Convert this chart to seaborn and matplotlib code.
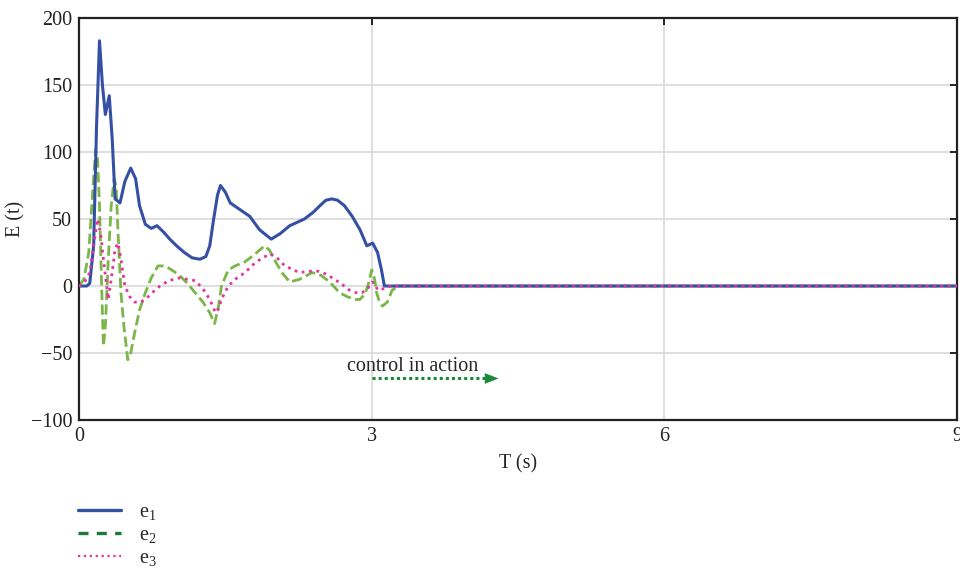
import matplotlib
matplotlib.use("Agg")
import matplotlib.pyplot as plt
from matplotlib.lines import Line2D
import seaborn as sns
import pandas as pd

# values
t_e1 = [0, 0.08, 0.11, 0.15, 0.18, 0.21, 0.24, 0.27, 0.31, 0.34, 0.37, 0.42, 0.47, 0.53, 0.58,
        0.62, 0.68, 0.74, 0.80, 0.87, 0.93, 1.00, 1.08, 1.16, 1.24, 1.30, 1.34, 1.38, 1.42, 1.45,
        1.50, 1.55, 1.65, 1.75, 1.85, 1.97, 2.06, 2.16, 2.31, 2.40, 2.47, 2.53, 2.59, 2.65, 2.72,
        2.80, 2.88, 2.95, 3.01, 3.06, 3.10, 3.13, 3.20, 9.0]
e1 = [0, 0, 2, 30, 120, 183, 150, 128, 142, 110, 65, 62, 78, 88, 80,
      60, 46, 43, 45, 40, 35, 30, 25, 21, 20, 22, 30, 50, 68, 75,
      70, 62, 57, 52, 42, 35, 39, 45, 50, 55, 60, 64, 65, 64, 60,
      52, 42, 30, 32, 25, 12, 0, 0, 0]

t_e2 = [0, 0.05, 0.1, 0.14, 0.17, 0.19, 0.21, 0.23, 0.25, 0.27, 0.3, 0.33, 0.36, 0.38, 0.4,
        0.43, 0.46, 0.5, 0.53, 0.57, 0.62, 0.68, 0.74, 0.81, 0.88, 0.95, 1.03, 1.11, 1.19, 1.27,
        1.34, 1.39, 1.43, 1.46, 1.53, 1.6, 1.7, 1.79, 1.87, 1.9, 1.95, 2.0, 2.08, 2.16, 2.26,
        2.39, 2.48, 2.57, 2.67, 2.75, 2.83, 2.88, 2.93, 2.96, 3.0, 3.03, 3.05, 3.08, 3.11, 3.16,
        3.21, 3.28, 9.0]
e2 = [0, 5, 25, 70, 102, 95, 60, 5, -45, -30, 20, 60, 80, 75, 40,
      -5, -30, -55, -50, -35, -18, -5, 6, 15, 15, 12, 8, 2, -5, -12,
      -20, -28, -15, 0, 12, 15, 18, 23, 28, 30, 27, 20, 10, 3, 5,
      10, 8, 3, -5, -8, -10, -10, -6, 0, 12, 5, -5, -12, -15, -12,
      -3, 0, 0]

t_e3 = [0, 0.05, 0.11, 0.15, 0.19, 0.22, 0.25, 0.28, 0.3, 0.34, 0.37, 0.4, 0.43, 0.47, 0.52,
        0.57, 0.63, 0.68, 0.75, 0.83, 0.92, 1.03, 1.11, 1.19, 1.27, 1.34, 1.4, 1.43, 1.46, 1.53,
        1.6, 1.7, 1.8, 1.88, 1.96, 2.03, 2.11, 2.2, 2.26, 2.35, 2.45, 2.53, 2.62, 2.7, 2.77,
        2.84, 2.9, 2.96, 3.0, 3.03, 3.06, 3.12, 3.2, 9.0]
e3 = [0, 2, 10, 30, 50, 40, 20, 2, -10, 10, 28, 32, 20, 0, -8,
      -12, -12, -10, -5, 0, 4, 6, 5, 4, -2, -10, -20, -17, -10, 0,
      5, 10, 17, 21, 24, 21, 15, 12, 10, 11, 11, 9, 5, 1, -3,
      -5, -5, -2, 3, 2, -3, -2, 0, 0]

series_labels = ["e$_1$", "e$_2$", "e$_3$"]
x_ticks = [0, 3, 6, 9]
y_ticks = [-100, -50, 0, 50, 100, 150, 200]
arrow_start, arrow_end, arrow_y = 3.0, 4.3, -69

sns.set_style("white")
plt.rcParams["font.family"] = ["Liberation Serif", "DejaVu Serif"]
plt.rcParams["mathtext.fontset"] = "custom"
plt.rcParams["mathtext.rm"] = "Liberation Serif"
plt.rcParams["mathtext.it"] = "Liberation Serif"

fig = plt.figure(figsize=(9.6, 5.71), dpi=100)
ax = fig.add_axes([0.0823, 0.2644, 0.9147, 0.7041])

df1 = pd.DataFrame({"t": t_e1, "e": e1})
df2 = pd.DataFrame({"t": t_e2, "e": e2})
df3 = pd.DataFrame({"t": t_e3, "e": e3})

sns.lineplot(data=df1, x="t", y="e", ax=ax, color="#3550a3", lw=2.2, zorder=3)
sns.lineplot(data=df2, x="t", y="e", ax=ax, color="#7ab648", lw=2.0, dashes=(3.5, 2.5),
             linestyle="--", zorder=2)
sns.lineplot(data=df3, x="t", y="e", ax=ax, color="#e0359c", lw=2.0, linestyle=":", zorder=4)

ax.set_xlim(0, 9)
ax.set_ylim(-100, 200)
ax.set_xticks(x_ticks)
ax.set_yticks(y_ticks)
ax.grid(True, color="#d9d9d9", lw=1.2)
ax.set_axisbelow(True)
for s in ax.spines.values():
    s.set_color("#222222")
    s.set_linewidth(1.6)
ax.tick_params(direction="in", length=5, width=1.4, colors="#222222", labelsize=14.5,
               top=True, right=True, pad=5)
ax.set_xlabel("T (s)", fontsize=14.5, labelpad=6)
ax.set_ylabel("E (t)", fontsize=14.5, labelpad=4)

# control arrow: dotted shaft plus solid head
ax.plot([arrow_start, arrow_end - 0.1], [arrow_y, arrow_y], color="#1a8a3a", lw=2.2,
        linestyle=(0, (1, 1)))
ax.annotate("", xy=(arrow_end, arrow_y), xytext=(arrow_end - 0.14, arrow_y),
            arrowprops=dict(arrowstyle="-|>,head_length=0.9,head_width=0.35",
                            color="#1a8a3a", lw=0.5, shrinkA=0, shrinkB=0))
ax.text(3.42, -60, "control in action", fontsize=14.5, ha="center", va="center")

handles = [Line2D([], [], color="#3550a3", lw=2.4),
           Line2D([], [], color="#1a7a3a", lw=2.4, linestyle="--", dashes=(3, 2.5)),
           Line2D([], [], color="#e0359c", lw=1.6, linestyle=":")]
leg = fig.legend(handles, series_labels, loc="upper left", frameon=False, fontsize=14.5,
                 handlelength=2.1, handletextpad=0.9, labelspacing=0.2, borderpad=0)
leg.set_bbox_to_anchor((0.071, 0.137), transform=fig.transFigure)

fig.savefig("out.png", dpi=100)
